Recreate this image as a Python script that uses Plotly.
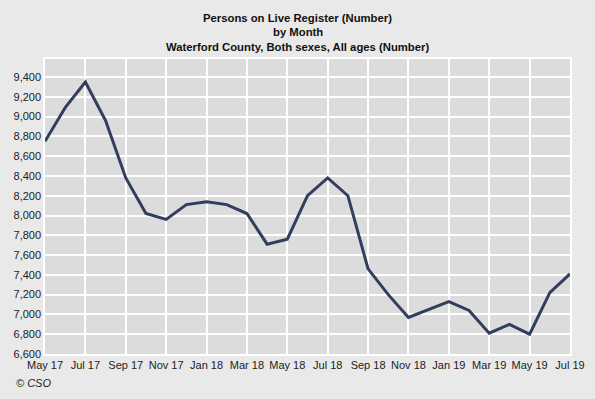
import plotly.graph_objects as go

months = ["May 17","Jun 17","Jul 17","Aug 17","Sep 17","Oct 17","Nov 17","Dec 17",
          "Jan 18","Feb 18","Mar 18","Apr 18","May 18","Jun 18","Jul 18","Aug 18",
          "Sep 18","Oct 18","Nov 18","Dec 18","Jan 19","Feb 19","Mar 19","Apr 19",
          "May 19","Jun 19","Jul 19"]
persons = [8750, 9090, 9350, 8960, 8380, 8020, 7960, 8110,
           8140, 8110, 8020, 7710, 7760, 8200, 8380, 8200,
           7460, 7200, 6970, 7050, 7130, 7040, 6810, 6900,
           6800, 7220, 7410]
xtick_labels = months[::2]
ytick_vals = list(range(6600, 9401, 200))
ytick_text = [f"{v:,}" for v in ytick_vals]
title_lines = ["Persons on Live Register (Number)", "by Month",
               "Waterford County, Both sexes, All ages (Number)"]

fig = go.Figure()
fig.add_trace(go.Scatter(x=months, y=persons, mode="lines",
                         line=dict(color="#323e5e", width=3), hoverinfo="x+y"))

W, H = 595, 399
ml, mr, mt, mb = 45, 25, 59, 45
pw, ph = W - ml - mr, H - mt - mb

def px_to_paper(xp, yp):
    return (xp - ml) / pw, (H - mb - yp) / ph

annotations = []
for i, line in enumerate(title_lines):
    xx, yy = px_to_paper(W / 2, 18 + i * 14.5)
    annotations.append(dict(text=f"<b>{line}</b>", xref="paper", yref="paper",
                            x=xx, y=yy, xanchor="center", yanchor="middle",
                            showarrow=False, font=dict(size=11.3, color="#111")))
xx, yy = px_to_paper(14, 383)
annotations.append(dict(text="<i>© CSO</i>", xref="paper", yref="paper",
                        x=xx, y=yy, xanchor="left", yanchor="middle",
                        showarrow=False, font=dict(size=11, color="#222")))

fig.update_layout(
    width=W, height=H,
    paper_bgcolor="#e9e9e9", plot_bgcolor="#dcdcdc",
    margin=dict(l=ml, r=mr, t=mt, b=mb, autoexpand=False),
    showlegend=False,
    font=dict(family="Liberation Sans, Arial", size=11, color="#222"),
    xaxis=dict(type="category", categoryorder="array", categoryarray=months,
               range=[0, 26], tickvals=xtick_labels, ticktext=xtick_labels,
               tickangle=0, automargin=False,
               showgrid=True, gridcolor="#ffffff", gridwidth=1.5,
               ticks="", tickfont=dict(size=11, color="#222"),
               showline=True, linecolor="#ffffff", mirror=True, linewidth=1.5,
               zeroline=False),
    yaxis=dict(range=[6600, 9582], tickvals=ytick_vals, ticktext=ytick_text,
               automargin=False,
               showgrid=True, gridcolor="#ffffff", gridwidth=1.5,
               ticks="", tickfont=dict(size=11, color="#222"),
               showline=True, linecolor="#ffffff", mirror=True, linewidth=1.5,
               zeroline=False),
    annotations=annotations,
)

fig.write_html("out.html", config={"displayModeBar": False},
               post_script="document.body.style.margin='0';document.body.style.background='#e9e9e9';")
